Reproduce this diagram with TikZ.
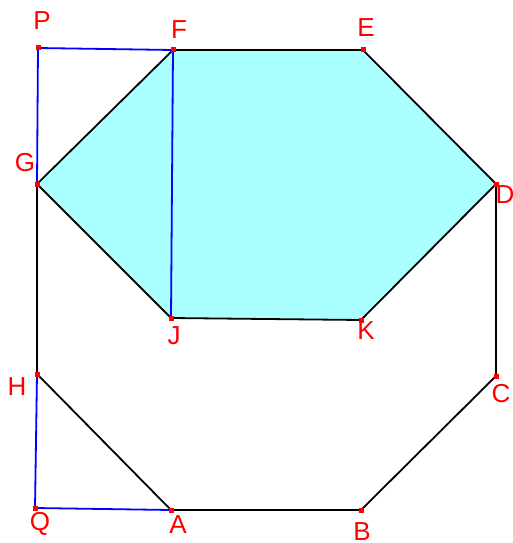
\documentclass[tikz,border=0pt]{standalone}
\usepackage{fontspec}
\setmainfont{Liberation Sans}
\usepackage{tikz}
\definecolor{hexfill}{RGB}{170,255,255}
\tikzset{
  lbl/.style={text=red, font=\fontsize{26}{26}\selectfont, inner sep=0pt},
  edge/.style={black, line width=1.8pt},
  aux/.style={blue, line width=1.8pt},
}

\begin{document}
\begin{tikzpicture}[x=1pt, y=-1pt, line join=round]
    \useasboundingbox (0,0) rectangle (512,543);

    % Points
    \coordinate (A) at (171,510);
    \coordinate (B) at (361,510);
    \coordinate (C) at (496,376);
    \coordinate (D) at (496,184);
    \coordinate (E) at (363,50);
    \coordinate (F) at (173,50);
    \coordinate (G) at (37,184);
    \coordinate (H) at (37,374);
    \coordinate (J) at (171,318);
    \coordinate (K) at (361,320);
    \coordinate (P) at (38,48);
    \coordinate (Q) at (35,508);

    % Shaded hexagon
    \fill[hexfill] (F) -- (E) -- (D) -- (K) -- (J) -- (G) -- cycle;

    % Octagon and hexagon edges
    \draw[edge] (A) -- (B) -- (C) -- (D) -- (E) -- (F) -- (G) -- (H) -- cycle;
    \draw[edge] (D) -- (K) -- (J) -- (G);

    % Blue segments
    \draw[aux] (G) -- (P) -- (F) -- (J);
    \draw[aux] (H) -- (Q) -- (A);

    % Point marks
    \foreach \p in {A,B,C,D,E,F,G,H,J,K,P,Q}
        \fill[red] ([shift={(-2.5,-2.5)}]\p) rectangle ([shift={(2.5,2.5)}]\p);

    % Labels
    \node[lbl] (lA) at (178,525) {A};
    \node[lbl] (lB) at (362,532) {B};
    \node[lbl] (lC) at (501,394) {C};
    \node[lbl] (lD) at (505,195) {D};
    \node[lbl] (lE) at (366,28) {E};
    \node[lbl] (lF) at (179,30) {F};
    \node[lbl] (lG) at (25,163) {G};
    \node[lbl] (lH) at (17,387) {H};
    \node[lbl] (lJ) at (174,336) {J};
    \node[lbl] (lK) at (366,331) {K};
    \node[lbl] (lP) at (42,21) {P};
    \node[lbl] (lQ) at (40,524) {Q};
\end{tikzpicture}
\end{document}
